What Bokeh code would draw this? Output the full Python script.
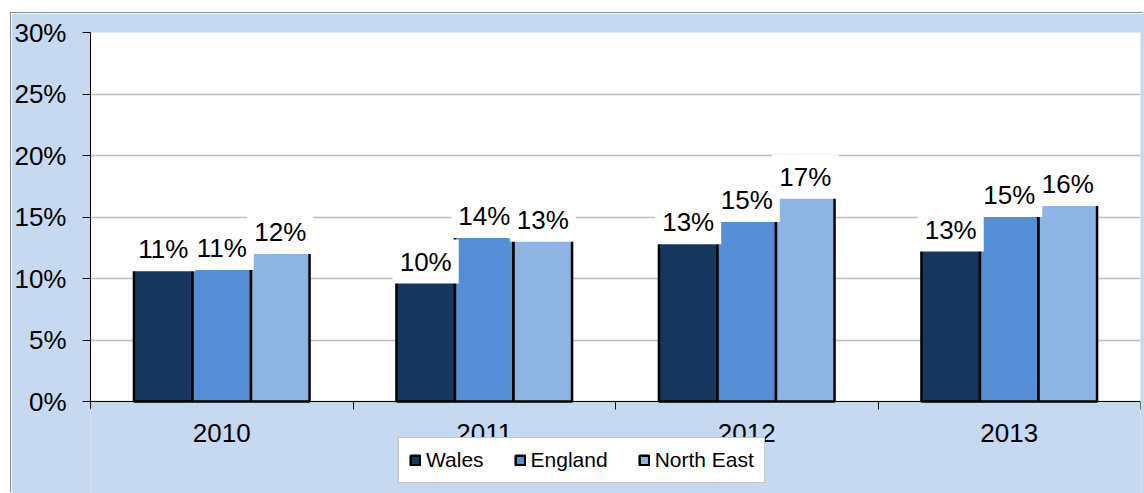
from bokeh.plotting import figure
from bokeh.models import (ColumnDataSource, FixedTicker, PrintfTickFormatter, Range1d, Legend,
                          LegendItem, BoxAnnotation)
from bokeh.core.properties import value
from bokeh.embed import file_html
from bokeh.resources import INLINE

years = ["2010", "2011", "2012", "2013"]
series = ["Wales", "England", "North East"]
wales = [11.0, 10.0, 13.2, 12.6]
england = [11.1, 13.7, 15.0, 15.4]
north_east = [12.4, 13.4, 16.9, 16.3]
colors = ["#17375E", "#558ED5", "#8EB4E3"]
y_ticks = [0, 5, 10, 15, 20, 25, 30]

FONT = "Liberation Sans"
BG = "#C6D9F1"

# frame spans from the 30% line down to the chart bottom; only the 0..30 band is white
PLOT_PX = 369.0   # pixels for 0..30
BELOW_PX = 92.0   # pixels below the 0 line
y_max = 30.0
y_min = -y_max * BELOW_PX / PLOT_PX

p = figure(width=1133, height=480, output_backend="svg", toolbar_location=None,
           x_range=Range1d(0, len(years)), y_range=Range1d(y_min, y_max),
           min_border_left=79, min_border_top=19, min_border_right=4, min_border_bottom=0)
p.margin = (13, 0, 0, 11)
p.styles = {"box-shadow": "-1px -1px 0 0 #8c8c8c"}
p.background_fill_color = BG
p.border_fill_color = BG
p.outline_line_color = None

p.add_layout(BoxAnnotation(bottom=0, fill_color="white", fill_alpha=1, line_color=None, level="image"))

# axes
p.yaxis.ticker = FixedTicker(ticks=y_ticks)
p.yaxis.bounds = (-0.6, 30)
p.yaxis.formatter = PrintfTickFormatter(format="%d%%")
p.yaxis.major_tick_out = 8
p.yaxis.major_tick_in = 0
p.yaxis.minor_tick_out = 0
p.yaxis.minor_tick_in = 0
p.yaxis.axis_line_color = "black"
p.yaxis.major_tick_line_color = "black"
p.yaxis.major_label_standoff = 16
p.yaxis.major_label_text_font = FONT
p.yaxis.major_label_text_font_size = "26px"
p.yaxis.major_label_text_color = "black"

centers = [i + 0.5 for i in range(len(years))]
p.xaxis.fixed_location = 0
p.xaxis.ticker = FixedTicker(ticks=centers, minor_ticks=list(range(len(years) + 1)))
p.xaxis.major_label_overrides = {c: y for c, y in zip(centers, years)}
p.xaxis.major_tick_out = 0
p.xaxis.major_tick_in = 0
p.xaxis.minor_tick_out = 8
p.xaxis.minor_tick_in = 0
p.xaxis.minor_tick_line_color = "black"
p.xaxis.axis_line_color = "black"
p.xaxis.major_label_standoff = 14
p.xaxis.major_label_text_font = FONT
p.xaxis.major_label_text_font_size = "26px"
p.xaxis.major_label_text_color = "black"

p.xgrid.grid_line_color = None
p.ygrid.ticker = FixedTicker(ticks=y_ticks)
p.ygrid.grid_line_color = "#BFBFBF"
p.ygrid.grid_line_width = 1.5

bw = 0.223
offsets = [-bw, 0.0, bw]
renderers = []
label_sources = []
for vals, off, col in zip([wales, england, north_east], offsets, colors):
    src = ColumnDataSource(dict(x=[c + off for c in centers], top=vals,
                                label=[f"{v:.0f}%" for v in vals]))
    r = p.vbar(x="x", top="top", width=bw, bottom=0, source=src,
               fill_color=col, line_color="black", line_width=2.5)
    renderers.append(r)
    label_sources.append(src)

for src in label_sources:
    p.text(x="x", y="top", text="label", source=src, text_align="center",
           text_baseline="alphabetic", y_offset=-17, text_font=value(FONT),
           text_font_size="26px", text_color="black",
           background_fill_color="white", padding=7)

legend = Legend(items=[LegendItem(label=s, renderers=[r]) for s, r in zip(series, renderers)],
                location=(308, 10), orientation="horizontal")
legend.label_text_font = FONT
legend.label_text_font_size = "21px"
legend.label_text_color = "black"
legend.glyph_width = 12
legend.glyph_height = 12
legend.label_standoff = 5
legend.spacing = 30
legend.padding = 10
legend.margin = 0
legend.border_line_color = "#8c8c8c"
legend.border_line_width = 1.5
legend.background_fill_color = "white"
legend.background_fill_alpha = 1
p.add_layout(legend, "center")

open("out.html", "w").write(file_html(p, INLINE))
